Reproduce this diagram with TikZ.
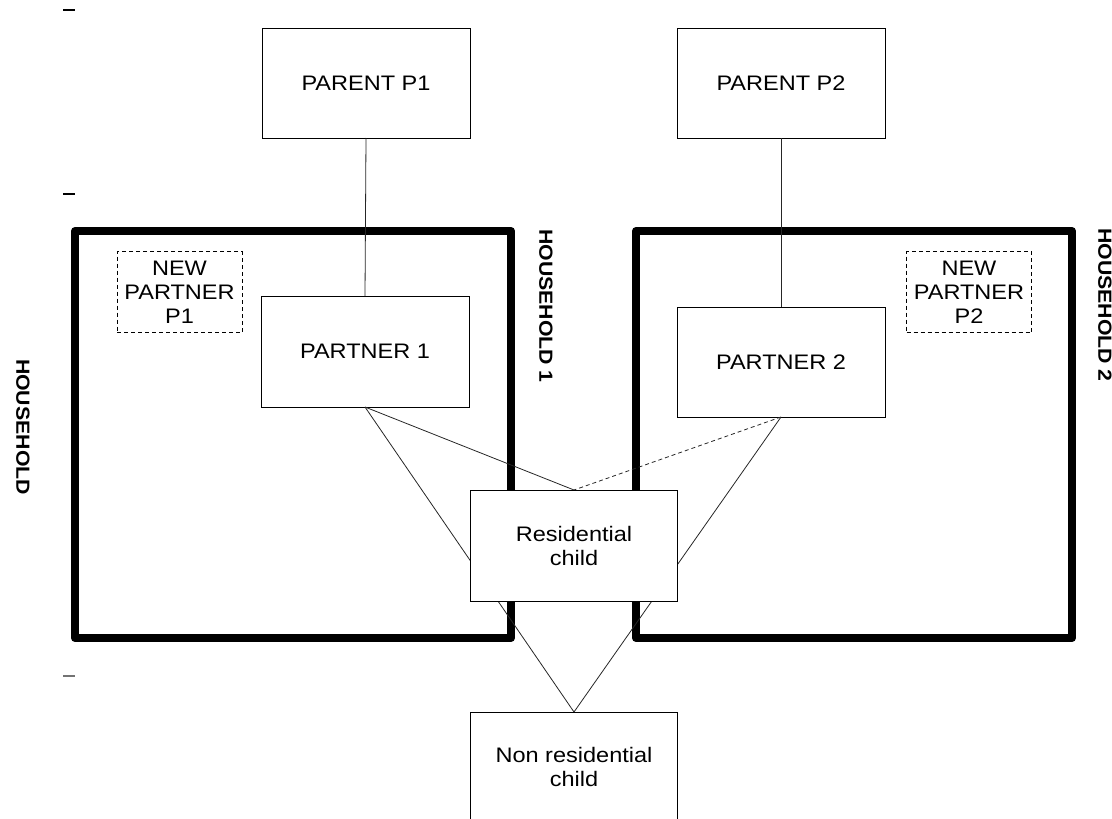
\documentclass[tikz,border=0pt]{standalone}
\usepackage{fontspec}
\setmainfont{Liberation Sans}[FakeStretch=1.12]
\begin{document}
\begin{tikzpicture}[x=1pt,y=-1pt,
  box/.style={draw=black,line width=1pt,fill=white,inner sep=0pt,outer sep=0pt,
    minimum width=208pt,minimum height=110pt,align=center,
    font=\fontsize{21}{24}\selectfont},
  newbox/.style={box,dash pattern=on 4pt off 3pt,minimum width=125pt,minimum height=81pt},
  hhold/.style={draw=black,line width=8pt,line join=round},
  conn/.style={draw=black!85,line width=0.8pt},
  lbl/.style={rotate=-90,inner sep=0pt,font=\fontsize{19}{20}\selectfont\bfseries},
  tick/.style={draw=black,line width=1.2pt}]
\useasboundingbox (0,0) rectangle (1112,819);
% tick marks
\coordinate (t1a) at (63,10); \coordinate (t1b) at (75,10);
\coordinate (t2a) at (63,194); \coordinate (t2b) at (75,194);
\coordinate (t3a) at (63,676); \coordinate (t3b) at (75,676);
\draw[tick] (t1a) -- (t1b);
\draw[tick] (t2a) -- (t2b);
\draw[tick,draw=black!55] (t3a) -- (t3b);
% household frames
\draw[hhold] (75,231) rectangle (511,638);
\draw[hhold] (636,231) rectangle (1072,638);
% labels
\node[lbl] (h1) at (546,306) {HOUSEHOLD 1};
\node[lbl] (h2) at (1105,305) {HOUSEHOLD 2};
\node[lbl] (h0) at (23,427) {HOUSEHOLD};
% node positions
\coordinate (cp1) at (366,83);
\coordinate (cp2) at (781,83);
\coordinate (cpa1) at (365,351.5);
\coordinate (cpa2) at (781,362);
\coordinate (crc) at (574,545.5);
\coordinate (cnrc) at (574,767);
% nodes
\node[box] (p1) at (cp1) {PARENT P1};
\node[box] (p2) at (cp2) {PARENT P2};
\node[box,minimum height=111pt] (pa1) at (cpa1) {PARTNER 1};
\node[box] (pa2) at (cpa2) {PARTNER 2};
\node[newbox] (np1) at (179.5,292) {NEW\\PARTNER\\P1};
\node[newbox] (np2) at (969,292) {NEW\\PARTNER\\P2};
% connectors
\draw[conn] (p1.south) -- (pa1.north);
\draw[conn] (p2.south) -- (pa2.north);
\coordinate (rctop) at (574,490);
\coordinate (nrctop) at (574,712);
\draw[conn] (pa1.south) -- (rctop);
\draw[conn] (pa1.south) -- (nrctop);
\draw[conn] (pa2.south) -- (nrctop);
\draw[conn,dash pattern=on 4pt off 3pt] (pa2.south) -- (rctop);
% child nodes on top
\node[box,minimum width=207pt,minimum height=111pt] (rc) at (crc) {Residential\\child};
\node[box,minimum width=207pt] (nrc) at (cnrc) {Non residential\\child};
\end{tikzpicture}
\end{document}
